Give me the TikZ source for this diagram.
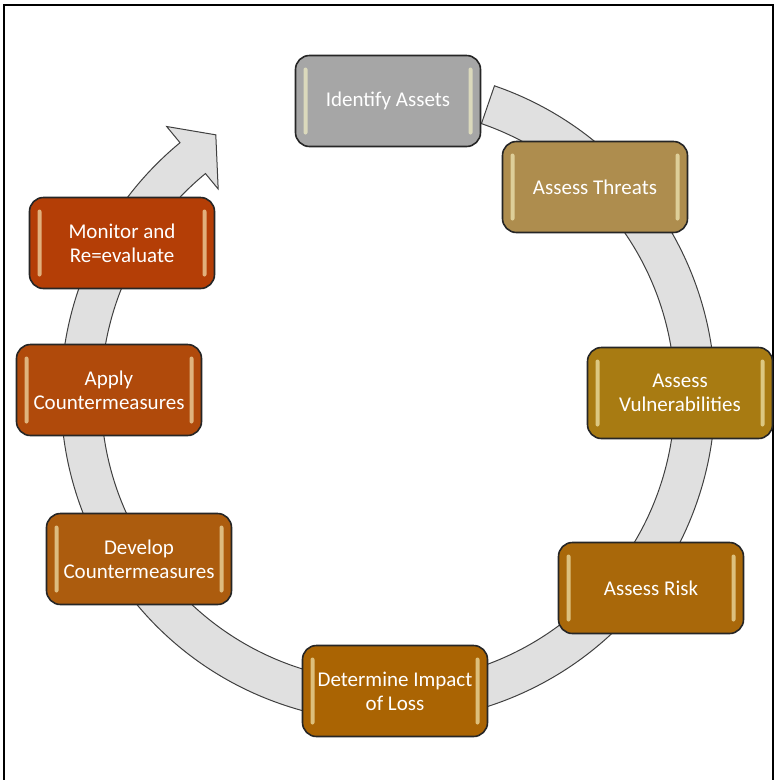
\documentclass[tikz,border=0pt]{standalone}
\usepackage{fontspec}
\setmainfont{Carlito}
\definecolor{grau}{HTML}{A6A6A6}
\definecolor{threatc}{HTML}{AE8D4E}
\definecolor{vulnc}{HTML}{A87B12}
\definecolor{riskc}{HTML}{A9680A}
\definecolor{impactc}{HTML}{AA6403}
\definecolor{developc}{HTML}{AC5C0E}
\definecolor{applyc}{HTML}{B04A0B}
\definecolor{monitorc}{HTML}{B43E06}
\definecolor{ringgrau}{HTML}{E0E0E0}
\tikzset{
  stepbox/.style={rounded corners=14pt, draw=black!85, line width=1.6pt, fill=#1,
    minimum width=185pt, minimum height=91pt, text=white, align=center,
    font=\fontsize{21}{24}\selectfont,
    path picture={
      \fill[white!80!yellow, opacity=.6, rounded corners=2pt]
        ([xshift=8pt,yshift=12pt]path picture bounding box.south west) rectangle
        ([xshift=12pt,yshift=-12pt]path picture bounding box.north west);
      \fill[white!80!yellow, opacity=.6, rounded corners=2pt]
        ([xshift=-8pt,yshift=12pt]path picture bounding box.south east) rectangle
        ([xshift=-12pt,yshift=-12pt]path picture bounding box.north east);
    }},
  ringpfeil/.style={fill=ringgrau, draw=black!75, line width=1pt, line join=miter}
}
\begin{document}
\begin{tikzpicture}[x=1pt,y=-1pt]
  \useasboundingbox (0,0) rectangle (779,780);
  % Rahmen
  \draw[line width=2.5pt] (4,780) -- (4,5) -- (773,5) -- (773,780);
  % Der Ringpfeil
  \begin{scope}[shift={(388,395)}]
   \draw[ringpfeil] (-71:327) arc[start angle=-71, end angle=230.5, radius=327]
     -- (230.5:348) -- (236.5:312) -- (230.5:267) -- (230.5:287)
     arc[start angle=230.5, end angle=-71, radius=287] -- cycle;
  \end{scope}
  % Die Schritte
  \node[stepbox=grau] (identify) at (388,101) {Identify Assets};
  \node[stepbox=threatc] (threats) at (595,187) {Assess Threats};
  \node[stepbox=vulnc] (vuln) at (680,393) {Assess\\Vulnerabilities};
  \node[stepbox=riskc] (risk) at (651,588) {Assess Risk};
  \node[stepbox=impactc] (impact) at (395,691) {Determine Impact\\of Loss};
  \node[stepbox=developc] (develop) at (139,559) {Develop\\Countermeasures};
  \node[stepbox=applyc] (apply) at (109,390) {Apply\\Countermeasures};
  \node[stepbox=monitorc] (monitor) at (122,243) {Monitor and\\Re=evaluate};
\end{tikzpicture}
\end{document}
